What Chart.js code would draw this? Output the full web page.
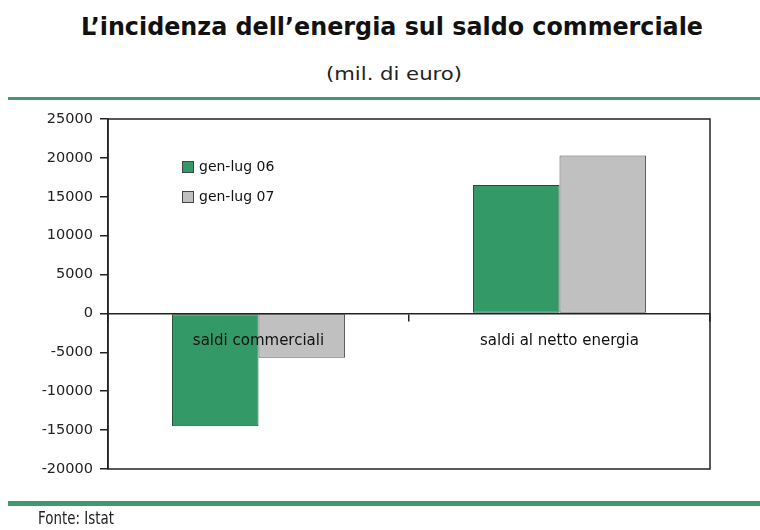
<!DOCTYPE html>
<html>
<head>
<meta charset="utf-8">
<script src="https://cdn.jsdelivr.net/npm/chart.js@4/dist/chart.umd.min.js"></script>
<style>
  html, body { margin: 0; padding: 0; background: #fff; }
  body { width: 760px; height: 530px; position: relative; overflow: hidden; }
  #c { position: absolute; left: 0; top: 0; }
  .txt { position: absolute; white-space: nowrap; line-height: 1; color: #111; transform-origin: 0 0; }
  #title { font-family: "DejaVu Sans", sans-serif; font-weight: bold; font-size: 24px; left: 81px; top: 15px; }
  #subtitle { font-family: "DejaVu Sans", sans-serif; font-size: 18px; left: 326px; top: 65px; color: #222; }
  #source { font-family: "DejaVu Sans", sans-serif; font-size: 18px; left: 38px; top: 509px; color: #222; }
  .rule { position: absolute; left: 8px; right: 0; background: #3d9b6c; }
</style>
</head>
<body>
<div class="txt" id="title" data-w="622">L’incidenza dell’energia sul saldo commerciale</div>
<div class="txt" id="subtitle" data-w="136">(mil. di euro)</div>
<div class="rule" style="top:97px;height:3px;"></div>
<canvas id="c" width="760" height="530"></canvas>
<div class="rule" style="top:501px;height:5px;"></div>
<div class="txt" id="source" data-w="76">Fonte: Istat</div>
<script>
// ---- data ----
const categories = ['saldi commerciali', 'saldi al netto energia'];
const seriesLabels = ['gen-lug 06', 'gen-lug 07'];
const values06 = [-14500, 16500];
const values07 = [-5700, 20300];
const yMin = -20000;
const yMax = 25000;
const yStep = 5000;

// fit condensed-looking text widths
document.querySelectorAll('.txt[data-w]').forEach(el => {
  const w = el.getBoundingClientRect().width;
  const target = parseFloat(el.dataset.w);
  el.style.transform = 'scaleX(' + (target / w) + ')';
});

const GREEN = '#339966';
const GREY = '#c0c0c0';
const AXIS = '#222';

const frame = {
  id: 'frame',
  afterDraw(chart) {
    const a = chart.chartArea, ctx = chart.ctx;
    ctx.save();
    ctx.strokeStyle = AXIS;
    ctx.lineWidth = 1.5;
    ctx.strokeRect(a.left, a.top, a.right - a.left, a.bottom - a.top);
    ctx.restore();
  }
};

const innerLegend = {
  id: 'innerLegend',
  afterDraw(chart) {
    const ctx = chart.ctx;
    ctx.save();
    ctx.font = '14px "DejaVu Sans", sans-serif';
    ctx.textBaseline = 'middle';
    ctx.textAlign = 'left';
    chart.data.datasets.forEach((ds, i) => {
      const x = 182, y = 161 + i * 30;
      ctx.fillStyle = ds.backgroundColor;
      ctx.fillRect(x, y, 12, 12);
      ctx.strokeStyle = '#444';
      ctx.lineWidth = 1;
      ctx.strokeRect(x + 0.5, y + 0.5, 11, 11);
      ctx.fillStyle = '#111';
      ctx.fillText(ds.label, 199, y + 6);
    });
    ctx.restore();
  }
};

new Chart(document.getElementById('c'), {
  type: 'bar',
  data: {
    labels: categories,
    datasets: [
      { label: seriesLabels[0], data: values06, backgroundColor: GREEN, borderColor: '#1e4f34', borderWidth: 1, borderSkipped: false },
      { label: seriesLabels[1], data: values07, backgroundColor: GREY, borderColor: '#555', borderWidth: 1, borderSkipped: false }
    ]
  },
  options: {
    responsive: false,
    animation: false,
    events: [],
    layout: { padding: { left: 0, right: 50, top: 119, bottom: 61 } },
    datasets: { bar: { barPercentage: 1, categoryPercentage: 0.575 } },
    plugins: { legend: { display: false }, tooltip: { enabled: false }, title: { display: false } },
    scales: {
      y: {
        position: 'left',
        min: yMin, max: yMax,
        afterFit(s) { s.width = 108; },
        ticks: { stepSize: yStep, color: '#222', padding: 7, callback: v => String(v), font: { family: '"DejaVu Sans", sans-serif', size: 14.5 } },
        grid: { drawOnChartArea: false, drawTicks: true, tickLength: 8, color: AXIS, lineWidth: 1.5 },
        border: { color: AXIS, width: 1.5 }
      },
      x: {
        position: { y: 0 },
        offset: true,
        ticks: { z: 2, color: '#111', padding: 12, maxRotation: 0, autoSkip: false, font: { family: '"DejaVu Sans", sans-serif', size: 15 } },
        grid: { offset: true, drawOnChartArea: false, drawTicks: true, tickLength: 7, color: AXIS, lineWidth: 1.5 },
        border: { z: 1, color: AXIS, width: 1.5 }
      }
    }
  },
  plugins: [frame, innerLegend]
});
</script>
</body>
</html>
